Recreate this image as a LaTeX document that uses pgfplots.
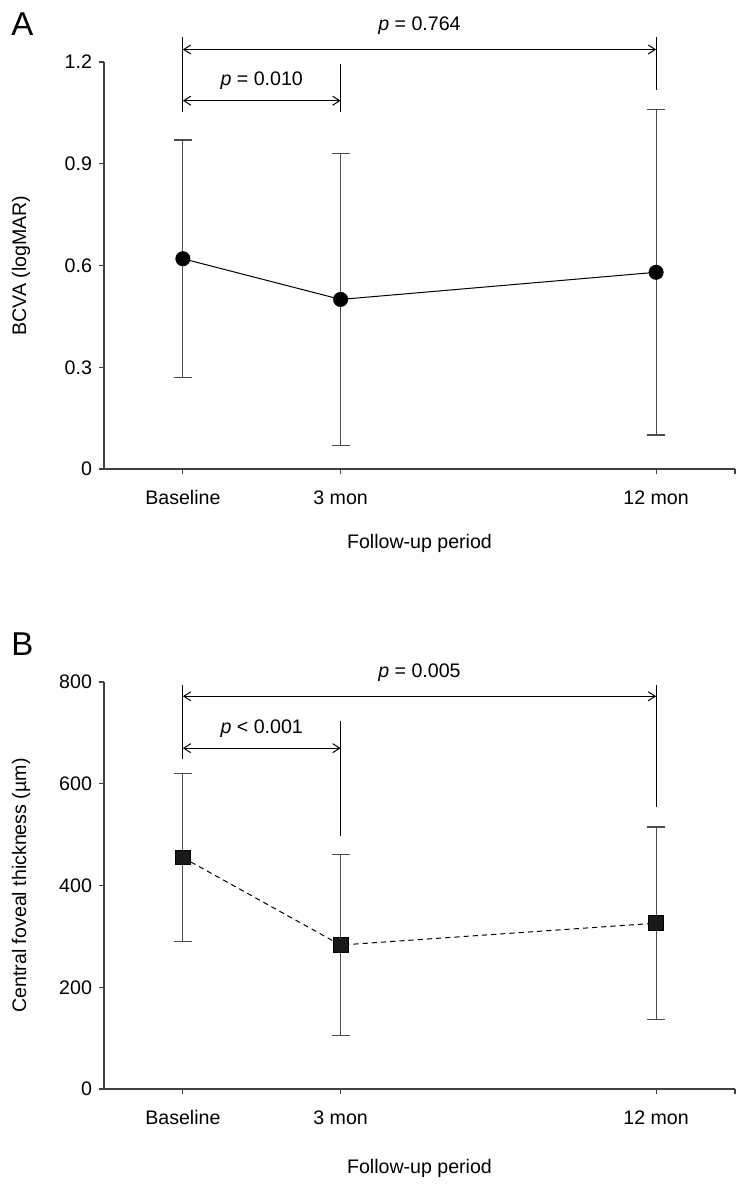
\documentclass[border=0pt]{standalone}
\usepackage{fontspec}
\setmainfont{Liberation Sans}
\usepackage{pgfplots}
\pgfplotsset{compat=1.18}
\usetikzlibrary{arrows.meta}
\definecolor{axgray}{gray}{0.25}
\definecolor{ebgray}{gray}{0.3}
\pgfplotsset{panel/.style={
  scale only axis, width=315.5pt, height=203.5pt,
  axis lines*=left,
  axis line style={axgray, line width=0.7pt},
  tick style={axgray, line width=0.6pt},
  tick align=outside, major tick length=2.5pt,
  xmin=-0.5, xmax=3.5,
  xtick={0,1,3}, xticklabels={Baseline,3 mon,12 mon},
  extra x ticks={3.5}, extra x tick labels={},
  font=\fontsize{9.8}{11}\selectfont,
  ticklabel style={font=\fontsize{9.8}{11}\selectfont},
  xticklabel style={yshift=-4.5pt, text height=7.2pt, text depth=0pt},
  /pgf/number format/assume math mode=true,
  clip=false,
  every axis y label/.style={at={(axis description cs:-0.1315,0.5)},rotate=90,anchor=center},
  every axis x label/.style={at={(axis description cs:0.5,-0.182)},anchor=center},
}}
\tikzset{bar/.style={{Straight Barb[length=3.5pt,width=4.5pt]}-{Straight Barb[length=3.5pt,width=4.5pt]}, black, line width=0.5pt},
  vl/.style={black, line width=0.5pt}}
\begin{document}
\begin{tikzpicture}[x=1pt,y=1pt]
\path[use as bounding box] (0,0) rectangle (373,-592.5);
\node[anchor=north west, inner sep=0pt, font=\fontsize{16.5}{17}\selectfont] at (5.5,-6) {A};
\node[anchor=north west, inner sep=0pt, font=\fontsize{16.5}{17}\selectfont] at (5.5,-316) {B};
\begin{axis}[panel, at={(52pt,-234.5pt)}, anchor=south west,
  ymin=0, ymax=1.2, ytick={0,0.3,0.6,0.9,1.2},
  yticklabels={0,0.3,0.6,0.9,1.2},
  xlabel={Follow-up period}, ylabel={BCVA (logMAR)}]
\addplot[black, line width=0.5pt, mark=*, mark size=3.5pt, mark options={fill=black, solid},
  error bars/.cd, y dir=both, y explicit,
  error bar style={ebgray, line width=0.5pt, solid},
  error mark options={rotate=90, mark size=4.5pt, ebgray, line width=0.6pt}]
coordinates {(0,0.62) +- (0,0.35) (1,0.50) +- (0,0.43) (3,0.58) +- (0,0.48)};
\draw[vl] (axis cs:0,1.273) -- (axis cs:0,1.052);
\draw[vl] (axis cs:3,1.273) -- (axis cs:3,1.117);
\draw[vl] (axis cs:1,1.193) -- (axis cs:1,1.052);
\draw[bar] (axis cs:0,1.237) -- (axis cs:3,1.237);
\draw[bar] (axis cs:0,1.086) -- (axis cs:1,1.086);
\node at (axis cs:1.5,1.306) {\textit{p} = 0.764};
\node at (axis cs:0.5,1.144) {\textit{p} = 0.010};
\end{axis}
\begin{axis}[panel, at={(52pt,-544.5pt)}, anchor=south west,
  ymin=0, ymax=800, ytick={0,200,400,600,800},
  xlabel={Follow-up period}, ylabel={Central foveal thickness (µm)},
  every axis x label/.style={at={(axis description cs:0.5,-0.194)},anchor=center}]
\addplot[black, line width=0.5pt, dash pattern=on 2.6pt off 2pt, mark=square*, mark size=3.7pt, mark options={fill=black!90, solid},
  error bars/.cd, y dir=both, y explicit,
  error bar style={ebgray, line width=0.5pt, solid},
  error mark options={rotate=90, mark size=4.5pt, ebgray, line width=0.6pt, solid}]
coordinates {(0,455) +- (0,165) (1,283) +- (0,178.5) (3,326) +- (0,189)};
\draw[vl] (axis cs:0,795) -- (axis cs:0,648);
\draw[vl] (axis cs:3,795) -- (axis cs:3,555);
\draw[vl] (axis cs:1,724) -- (axis cs:1,498);
\draw[bar] (axis cs:0,772) -- (axis cs:3,772);
\draw[bar] (axis cs:0,670) -- (axis cs:1,670);
\node at (axis cs:1.5,818) {\textit{p} = 0.005};
\node at (axis cs:0.5,708) {\textit{p} < 0.001};
\end{axis}
\end{tikzpicture}
\end{document}
